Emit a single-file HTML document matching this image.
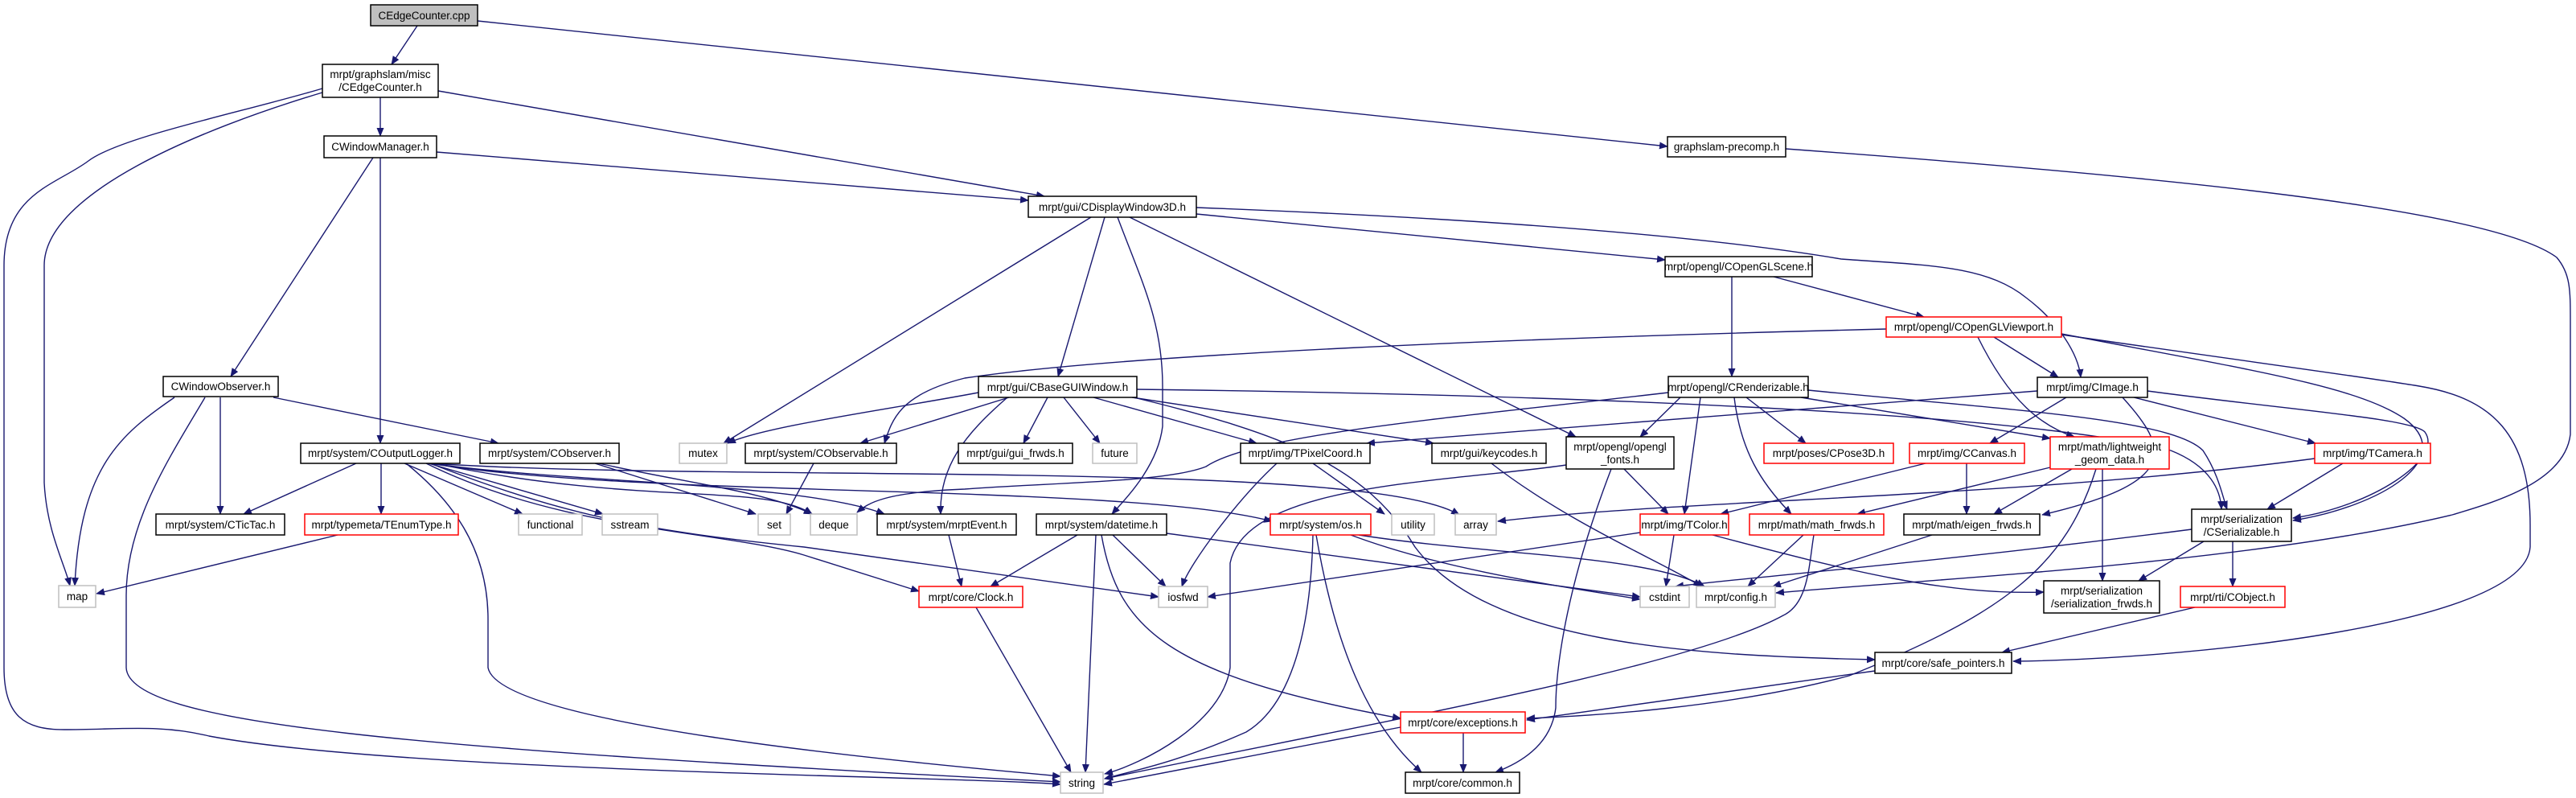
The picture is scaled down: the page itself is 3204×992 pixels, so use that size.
<!DOCTYPE html>
<html><head><meta charset="utf-8"><style>
html,body{margin:0;padding:0;background:#fff;}
svg{display:block;}
text{font-family:"Liberation Sans",sans-serif;font-size:13.5px;fill:#000;text-anchor:middle;}
.e{fill:none;stroke:#191970;stroke-width:1.4;marker-end:url(#a);}
.n{fill:#fff;stroke:#000;stroke-width:1.5;}
.g{fill:#fff;stroke:#bfbfbf;stroke-width:1.5;}
.r{fill:#fff;stroke:#ff0000;stroke-width:1.5;}
</style></head><body>
<svg width="3204" height="992" viewBox="0 0 3204 992" xmlns="http://www.w3.org/2000/svg">
<defs><marker id="a" markerWidth="11" markerHeight="9" refX="10" refY="4.5" orient="auto" markerUnits="userSpaceOnUse"><path d="M0,0 L11,4.5 L0,9z" fill="#191970"/></marker></defs>
<g>
<path class="e" d="M519,32 L487,80"/>
<path class="e" d="M594,26 L2074,182"/>
<path class="e" d="M473,121 L473,169"/>
<path class="e" d="M545,113 L1299,244"/>
<path class="e" d="M543,189 L1279,249"/>
<path class="e" d="M464,196 L287,468"/>
<path class="e" d="M473,196 L473,551"/>
<path class="e" d="M401,110 C300,140 150,170 110,200 C70,230 5,240 5,330 L5,830 C5,890 30,907 80,907 C150,907 200,900 260,915 C500,960 1200,965 1319,975"/>
<path class="e" d="M401,115 C250,160 55,240 55,330 L55,600 C58,660 80,700 87,728"/>
<path class="e" d="M217,494 C150,540 100,580 93,728"/>
<path class="e" d="M255,494 C210,570 157,650 157,740 L157,830 C160,900 500,930 1319,972"/>
<path class="e" d="M274,494 L274,639"/>
<path class="e" d="M340,494 L620,551"/>
<path class="e" d="M443,576 L303,639"/>
<path class="e" d="M474,576 L474,639"/>
<path class="e" d="M503,576 L650,639"/>
<path class="e" d="M533,576 L750,639"/>
<path class="e" d="M505,576 C560,620 607,680 607,770 L607,830 C620,900 1100,945 1319,965"/>
<path class="e" d="M540,576 C800,630 950,600 1010,639"/>
<path class="e" d="M740,576 L940,639"/>
<path class="e" d="M745,576 C850,600 950,610 1010,639"/>
<path class="e" d="M535,576 C700,600 1000,600 1100,639"/>
<path class="e" d="M535,576 C800,620 1400,600 1582,648"/>
<path class="e" d="M535,576 C900,600 1700,570 1815,640"/>
<path class="e" d="M535,576 C700,640 800,660 1000,680 L1441,742"/>
<path class="e" d="M530,576 C700,660 900,660 1000,690 L1143,735"/>
<path class="e" d="M1012,576 L978,639"/>
<path class="e" d="M420,665 L120,738"/>
<path class="e" d="M1255,494 L1070,551"/>
<path class="e" d="M1303,494 L1273,551"/>
<path class="e" d="M1323,494 L1368,551"/>
<path class="e" d="M1360,494 L1563,551"/>
<path class="e" d="M1408,494 L1783,551"/>
<path class="e" d="M1253,494 C1200,540 1168,580 1170,639"/>
<path class="e" d="M1217,488 C1100,510 950,530 905,551"/>
<path class="e" d="M1414,484 C1900,490 2500,510 2700,560 C2750,580 2762,610 2763,633"/>
<path class="e" d="M1410,494 C1600,540 1700,580 1760,680 C1850,800 2100,815 2332,820"/>
<path class="e" d="M1357,270 L900,551"/>
<path class="e" d="M1374,270 L1316,468"/>
<path class="e" d="M1390,270 C1420,350 1446,400 1446,480 L1446,530 C1440,580 1400,620 1383,639"/>
<path class="e" d="M1405,270 L1960,543"/>
<path class="e" d="M1488,266 L2071,323"/>
<path class="e" d="M1488,258 C1800,270 2100,290 2290,322 C2400,330 2470,330 2520,370 C2560,400 2585,440 2588,469"/>
<path class="e" d="M2154,344 L2154,468"/>
<path class="e" d="M2206,344 L2393,394"/>
<path class="e" d="M2346,409 C1900,420 1400,440 1200,470 C1120,490 1110,520 1100,551"/>
<path class="e" d="M2480,419 L2560,469"/>
<path class="e" d="M2460,419 C2500,500 2540,530 2580,543"/>
<path class="e" d="M2564,415 C2800,460 2930,480 2990,520 C3060,570 2960,630 2852,647"/>
<path class="e" d="M2564,416 C2800,450 2950,470 3009,480 C3100,495 3147,540 3147,653 L3147,680 C3140,780 2700,820 2504,822"/>
<path class="e" d="M2671,486 C2850,510 3000,520 3016,537 C3040,570 2950,630 2852,644"/>
<path class="e" d="M2221,185 C2700,220 3100,260 3180,320 C3197,340 3197,360 3197,400 L3197,540 C3190,600 3100,625 3050,640 C2800,700 2400,720 2209,737"/>
<path class="e" d="M2075,488 C1800,520 1560,540 1500,580 C1450,600 1300,600 1200,608 C1100,612 1080,625 1066,637"/>
<path class="e" d="M2534,486 L1700,551"/>
<path class="e" d="M2249,485 C2500,510 2700,520 2740,560 C2760,590 2765,620 2770,633"/>
<path class="e" d="M2240,494 L2550,545"/>
<path class="e" d="M2115,494 L2095,639"/>
<path class="e" d="M2157,494 C2165,560 2190,600 2228,639"/>
<path class="e" d="M2172,494 L2246,551"/>
<path class="e" d="M2090,494 L2040,543"/>
<path class="e" d="M2570,494 L2475,551"/>
<path class="e" d="M2654,494 L2880,551"/>
<path class="e" d="M2640,494 C2700,560 2710,600 2540,640"/>
<path class="e" d="M2914,576 L2820,633"/>
<path class="e" d="M2879,570 C2500,620 2100,620 1863,648"/>
<path class="e" d="M2395,576 L2140,639"/>
<path class="e" d="M2446,576 L2446,639"/>
<path class="e" d="M2550,581 L2310,639"/>
<path class="e" d="M2577,583 L2480,639"/>
<path class="e" d="M2615,583 L2615,722"/>
<path class="e" d="M2607,583 C2570,700 2500,760 2300,840 C2150,880 1980,890 1899,893"/>
<path class="e" d="M2741,673 L2660,722"/>
<path class="e" d="M2777,673 L2777,729"/>
<path class="e" d="M2726,658 C2400,700 2200,715 2084,729"/>
<path class="e" d="M2243,665 L2174,729"/>
<path class="e" d="M2256,665 C2250,700 2250,750 2218,765 C2100,830 1700,900 1374,968"/>
<path class="e" d="M2403,665 L2205,729"/>
<path class="e" d="M2730,755 L2490,811"/>
<path class="e" d="M2332,834 L1899,895"/>
<path class="e" d="M2082,665 L2072,729"/>
<path class="e" d="M2040,662 L1502,742"/>
<path class="e" d="M2130,665 C2300,710 2420,740 2542,736"/>
<path class="e" d="M1633,665 C1630,800 1600,880 1550,910 C1460,950 1400,960 1374,968"/>
<path class="e" d="M1637,665 C1660,800 1700,900 1768,960"/>
<path class="e" d="M1680,665 C1800,710 1950,730 2040,745"/>
<path class="e" d="M1690,665 C1850,690 2050,690 2120,729"/>
<path class="e" d="M1340,665 L1232,729"/>
<path class="e" d="M1363,665 L1350,960"/>
<path class="e" d="M1384,665 L1450,729"/>
<path class="e" d="M1370,665 C1390,780 1450,840 1742,893"/>
<path class="e" d="M1451,663 L2040,742"/>
<path class="e" d="M1180,665 L1196,729"/>
<path class="e" d="M1214,755 L1332,960"/>
<path class="e" d="M1742,904 L1373,975"/>
<path class="e" d="M1820,911 L1820,960"/>
<path class="e" d="M1948,578 C1800,600 1550,600 1530,700 L1530,830 C1520,900 1420,950 1374,962"/>
<path class="e" d="M2020,583 L2075,639"/>
<path class="e" d="M2004,583 C1940,750 1935,850 1935,880 C1930,920 1900,945 1860,960"/>
<path class="e" d="M1855,576 C1950,650 2070,700 2116,729"/>
<path class="e" d="M1588,576 C1540,620 1480,700 1470,729"/>
<path class="e" d="M1633,576 L1722,639"/>
</g>
<g>
<rect x="461" y="6" width="133" height="26" fill="#bfbfbf" stroke="#000" stroke-width="1.5"/><text x="527.5" y="24">CEdgeCounter.cpp</text>
<rect class="n" x="401" y="80" width="144" height="41"/><text x="473" y="97">mrpt/graphslam/misc</text><text x="473" y="113">/CEdgeCounter.h</text>
<rect class="n" x="403" y="169" width="140" height="27"/><text x="473" y="187">CWindowManager.h</text>
<rect class="n" x="203" y="468" width="143" height="25"/><text x="274.5" y="485">CWindowObserver.h</text>
<rect class="n" x="374" y="551" width="198" height="25"/><text x="473" y="568">mrpt/system/COutputLogger.h</text>
<rect class="n" x="597" y="551" width="173" height="25"/><text x="683.5" y="568">mrpt/system/CObserver.h</text>
<rect class="g" x="845" y="551" width="59" height="25"/><text x="874.5" y="568">mutex</text>
<rect class="n" x="927" y="551" width="188" height="25"/><text x="1021" y="568">mrpt/system/CObservable.h</text>
<rect class="n" x="194" y="639" width="160" height="26"/><text x="274" y="657">mrpt/system/CTicTac.h</text>
<rect class="r" x="379" y="639" width="191" height="26"/><text x="474.5" y="657">mrpt/typemeta/TEnumType.h</text>
<rect class="g" x="645" y="639" width="79" height="26"/><text x="684.5" y="657">functional</text>
<rect class="g" x="749" y="639" width="69" height="26"/><text x="783.5" y="657">sstream</text>
<rect class="g" x="943" y="639" width="40" height="26"/><text x="963" y="657">set</text>
<rect class="g" x="1008" y="639" width="58" height="26"/><text x="1037" y="657">deque</text>
<rect class="n" x="1091" y="639" width="173" height="26"/><text x="1177.5" y="657">mrpt/system/mrptEvent.h</text>
<rect class="g" x="73" y="728" width="46" height="27"/><text x="96" y="746">map</text>
<rect class="g" x="1319" y="960" width="53" height="26"/><text x="1345.5" y="978">string</text>
<rect class="n" x="2074" y="170" width="147" height="25"/><text x="2147.5" y="187">graphslam-precomp.h</text>
<rect class="n" x="1279" y="244" width="209" height="26"/><text x="1383.5" y="262">mrpt/gui/CDisplayWindow3D.h</text>
<rect class="n" x="2071" y="319" width="183" height="25"/><text x="2162.5" y="336">mrpt/opengl/COpenGLScene.h</text>
<rect class="n" x="1217" y="468" width="197" height="26"/><text x="1315.5" y="486">mrpt/gui/CBaseGUIWindow.h</text>
<rect class="n" x="2075" y="468" width="174" height="26"/><text x="2162" y="486">mrpt/opengl/CRenderizable.h</text>
<rect class="r" x="2346" y="394" width="218" height="25"/><text x="2455" y="411">mrpt/opengl/COpenGLViewport.h</text>
<rect class="n" x="2534" y="469" width="137" height="25"/><text x="2602.5" y="486">mrpt/img/CImage.h</text>
<rect class="n" x="1192" y="551" width="142" height="25"/><text x="1263" y="568">mrpt/gui/gui_frwds.h</text>
<rect class="g" x="1359" y="551" width="55" height="25"/><text x="1386.5" y="568">future</text>
<rect class="n" x="1543" y="551" width="161" height="25"/><text x="1623.5" y="568">mrpt/img/TPixelCoord.h</text>
<rect class="n" x="1781" y="551" width="142" height="25"/><text x="1852" y="568">mrpt/gui/keycodes.h</text>
<rect class="n" x="1948" y="543" width="134" height="40"/><text x="2015" y="560">mrpt/opengl/opengl</text><text x="2015" y="576">_fonts.h</text>
<rect class="n" x="1289" y="639" width="162" height="26"/><text x="1370" y="657">mrpt/system/datetime.h</text>
<rect class="r" x="1580" y="639" width="125" height="26"/><text x="1642.5" y="657">mrpt/system/os.h</text>
<rect class="g" x="1731" y="639" width="53" height="26"/><text x="1757.5" y="657">utility</text>
<rect class="g" x="1810" y="639" width="51" height="26"/><text x="1835.5" y="657">array</text>
<rect class="r" x="2040" y="639" width="110" height="26"/><text x="2095" y="657">mrpt/img/TColor.h</text>
<rect class="r" x="1143" y="729" width="129" height="26"/><text x="1207.5" y="747">mrpt/core/Clock.h</text>
<rect class="g" x="1441" y="729" width="61" height="26"/><text x="1471.5" y="747">iosfwd</text>
<rect class="g" x="2040" y="729" width="61" height="26"/><text x="2070.5" y="747">cstdint</text>
<rect class="g" x="2110" y="729" width="98" height="26"/><text x="2159" y="747">mrpt/config.h</text>
<rect class="r" x="1742" y="885" width="155" height="26"/><text x="1819.5" y="903">mrpt/core/exceptions.h</text>
<rect class="n" x="1748" y="960" width="142" height="26"/><text x="1819" y="978">mrpt/core/common.h</text>
<rect class="r" x="2194" y="551" width="161" height="25"/><text x="2274.5" y="568">mrpt/poses/CPose3D.h</text>
<rect class="r" x="2375" y="551" width="143" height="25"/><text x="2446.5" y="568">mrpt/img/CCanvas.h</text>
<rect class="r" x="2550" y="543" width="148" height="40"/><text x="2624" y="560">mrpt/math/lightweight</text><text x="2624" y="576">_geom_data.h</text>
<rect class="r" x="2879" y="551" width="144" height="25"/><text x="2951" y="568">mrpt/img/TCamera.h</text>
<rect class="r" x="2176" y="639" width="167" height="26"/><text x="2259.5" y="657">mrpt/math/math_frwds.h</text>
<rect class="n" x="2368" y="639" width="169" height="26"/><text x="2452.5" y="657">mrpt/math/eigen_frwds.h</text>
<rect class="n" x="2726" y="633" width="124" height="40"/><text x="2788" y="650">mrpt/serialization</text><text x="2788" y="666">/CSerializable.h</text>
<rect class="n" x="2542" y="722" width="144" height="40"/><text x="2614" y="739">mrpt/serialization</text><text x="2614" y="755">/serialization_frwds.h</text>
<rect class="r" x="2712" y="729" width="130" height="26"/><text x="2777" y="747">mrpt/rti/CObject.h</text>
<rect class="n" x="2332" y="811" width="170" height="26"/><text x="2417" y="829">mrpt/core/safe_pointers.h</text>
</g>
</svg>
</body></html>
